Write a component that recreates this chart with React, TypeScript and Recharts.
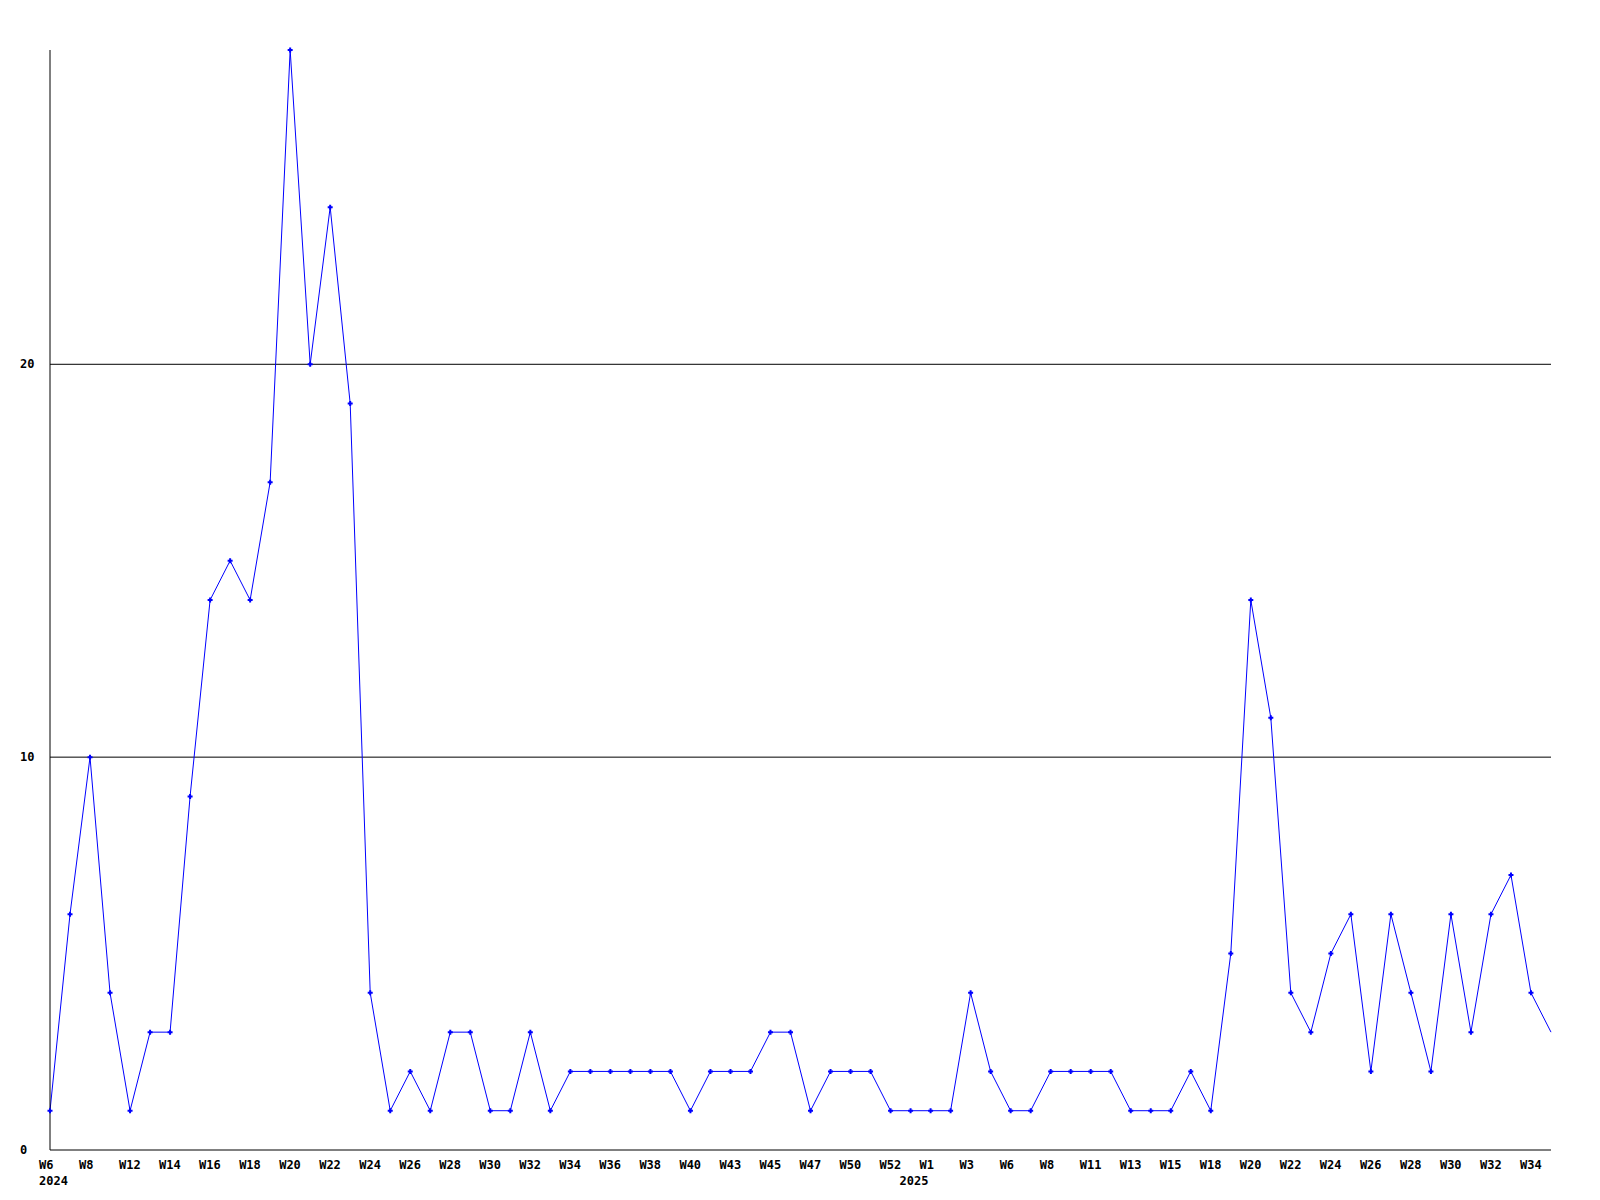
import React from 'react';
import { LineChart, Line, XAxis, YAxis, CartesianGrid } from 'recharts';

// weekly counts, one per week that has data (2024 W6 .. 2025 W35)
const counts = [
  1, 6, 10, 4, 1, 3, 3, 9, 14, 15,
  14, 17, 28, 20, 24, 19, 4, 1, 2, 1,
  3, 3, 1, 1, 3, 1, 2, 2, 2, 2,
  2, 2, 1, 2, 2, 2, 3, 3, 1, 2,
  2, 2, 1, 1, 1, 1, 4, 2, 1, 1,
  2, 2, 2, 2, 1, 1, 1, 2, 1, 5,
  14, 11, 4, 3, 5, 6, 2, 6, 4, 2,
  6, 3, 6, 7, 4, 3,
];

// labels shown under every other point
const weekLabels = [
  'W6', 'W8', 'W12', 'W14', 'W16', 'W18', 'W20', 'W22', 'W24', 'W26',
  'W28', 'W30', 'W32', 'W34', 'W36', 'W38', 'W40', 'W43', 'W45', 'W47',
  'W50', 'W52', 'W1', 'W3', 'W6', 'W8', 'W11', 'W13', 'W15', 'W18',
  'W20', 'W22', 'W24', 'W26', 'W28', 'W30', 'W32', 'W34',
];

const years = ['2024', '2025'];
const yearStart = [0, 43];

const yTicks = [0, 10, 20];
const gridValues = [10, 20];

const data = counts.map((v, i) => ({ i, v }));
const allTicks = data.map((d) => d.i);

const font = '"DejaVu Sans Mono", monospace';

function WeekTick({ x, payload }: any) {
  const i = payload.value;
  const week = i % 2 === 0 ? weekLabels[i / 2] : null;
  const yi = yearStart.indexOf(i);
  return (
    <g>
      {week && (
        <text x={x - 11} y={1169} fontFamily={font} fontWeight="bold" fontSize={12} fill="#000" textAnchor="start">
          {week}
        </text>
      )}
      {yi >= 0 && (
        <text x={x - 11} y={1185} fontFamily={font} fontWeight="bold" fontSize={12} fill="#000" textAnchor="start">
          {years[yi]}
        </text>
      )}
    </g>
  );
}

function CountTick({ y, payload }: any) {
  return (
    <text x={20} y={y + 4} fontFamily={font} fontWeight="bold" fontSize={12} fill="#000" textAnchor="start">
      {payload.value}
    </text>
  );
}

function Mark({ cx, cy, index }: any) {
  if (index === counts.length - 1) return <g key={index} />;
  return (
    <path
      key={index}
      d={`M${cx - 2.5},${cy}h5M${cx},${cy - 2.5}v5`}
      stroke="#0000ff"
      strokeWidth={2}
    />
  );
}

export default function App() {
  return (
    <div style={{ position: 'absolute', left: 0, top: 0, background: '#fff' }}>
      <LineChart width={1600} height={1200} data={data} margin={{ top: 50, right: 49, left: 20, bottom: 0 }}>
        <CartesianGrid
          horizontal
          vertical={false}
          horizontalValues={gridValues}
          stroke="#000"
          strokeWidth={1}
        />
        <XAxis
          dataKey="i"
          type="number"
          domain={[0, counts.length - 1]}
          ticks={allTicks}
          interval={0}
          height={50}
          axisLine={{ stroke: '#000', strokeWidth: 1 }}
          tickLine={false}
          tick={<WeekTick />}
        />
        <YAxis
          domain={[0, 28]}
          ticks={yTicks}
          width={30}
          axisLine={{ stroke: '#000', strokeWidth: 1 }}
          tickLine={false}
          tick={<CountTick />}
        />
        <Line
          type="linear"
          dataKey="v"
          stroke="#0000ff"
          strokeWidth={1}
          dot={<Mark />}
          activeDot={false}
          isAnimationActive={false}
        />
      </LineChart>
    </div>
  );
}
